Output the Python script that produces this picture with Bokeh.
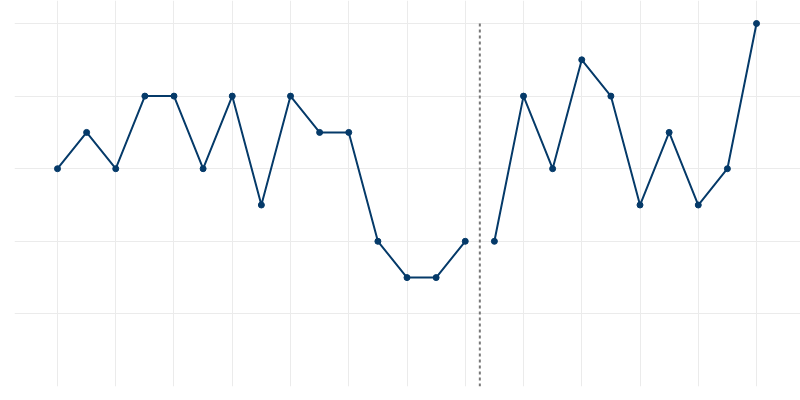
from bokeh.plotting import figure
from bokeh.models import Range1d, FixedTicker
from bokeh.embed import file_html
from bokeh.resources import INLINE

x_before = list(range(0, 15))
y_before = [6, 7, 6, 8, 8, 6, 8, 5, 8, 7, 7, 4, 3, 3, 4]
x_after = list(range(15, 25))
y_after = [4, 8, 6, 9, 8, 5, 7, 5, 6, 10]
break_x = 14.5
x_ticks = list(range(0, 25, 2))
y_ticks = [2, 4, 6, 8, 10]

p = figure(width=800, height=400, output_backend="svg", toolbar_location=None,
           x_range=Range1d(-1.476, 25.51), y_range=Range1d(0, 10.634),
           min_border_left=14, min_border_right=0, min_border_top=0, min_border_bottom=14)
p.outline_line_color = None
p.xaxis.visible = False
p.yaxis.visible = False
p.xaxis.ticker = FixedTicker(ticks=x_ticks)
p.yaxis.ticker = FixedTicker(ticks=y_ticks)
p.xgrid.ticker = FixedTicker(ticks=x_ticks)
p.ygrid.ticker = FixedTicker(ticks=y_ticks)
p.grid.grid_line_color = "#ebebeb"
p.grid.grid_line_width = 1

color = "#053a69"
for xs, ys in ((x_before, y_before), (x_after, y_after)):
    p.line(xs, ys, line_color=color, line_width=2)
    p.scatter(xs, ys, size=6, fill_color=color, line_color=color)

p.segment(x0=[break_x], y0=[0], x1=[break_x], y1=[10], line_color="#777777",
          line_width=2, line_dash="3 3")

open("out.html", "w").write(file_html(p, INLINE))
